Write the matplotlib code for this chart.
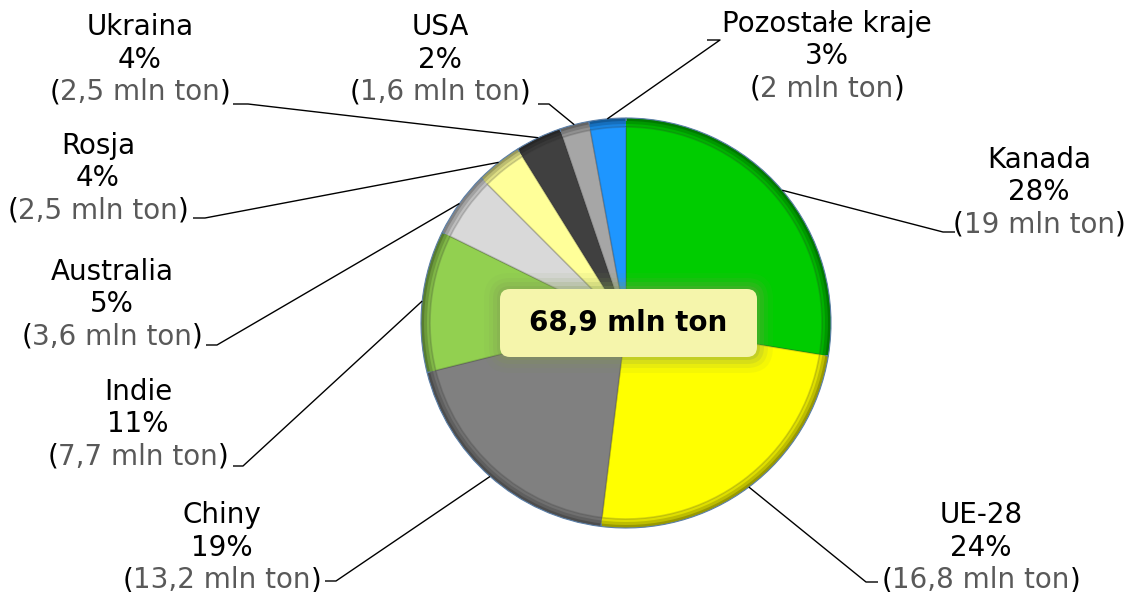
import numpy as np
import matplotlib.pyplot as plt
from matplotlib.patches import FancyBboxPatch
from matplotlib.colors import to_rgb

# data
countries = ["Kanada", "UE-28", "Chiny", "Indie", "Australia", "Rosja",
             "Ukraina", "USA", "Pozostałe kraje"]
mln_ton = [19, 16.8, 13.2, 7.7, 3.6, 2.5, 2.5, 1.6, 2]
percent = ["28%", "24%", "19%", "11%", "5%", "4%", "4%", "2%", "3%"]
value_text = ["19", "16,8", "13,2", "7,7", "3,6", "2,5", "2,5", "1,6", "2"]
total_text = "68,9 mln ton"

colors = ["#00cc00", "#ffff00", "#808080", "#92d050", "#d9d9d9",
          "#ffff99", "#404040", "#a6a6a6", "#1e96ff"]

W, H = 1129, 592
# label layout (pixel coords, y measured from the top)
label_x = [1039, 981, 222, 138, 112, 98, 140, 440, 827]
label_y = [160, 515, 515, 392, 272, 146, 27, 27, 24]
elbow = [(943, 232), (866, 582), (336, 581), (243, 466), (217, 345),
         (205, 218), (248, 104), (549, 104), (720, 40)]
elbow_end = [955, 878, 325, 233, 206, 193, 233, 538, 707]

plt.rcParams['font.family'] = ['DejaVu Sans']
plt.rcParams['font.size'] = 20

fig = plt.figure(figsize=(W / 100, H / 100), dpi=100)
ax = fig.add_axes([0, 0, 1, 1])

cx, cy, R = 626, H - 323, 205


def darker(c, f):
    r, g, b = to_rgb(c)
    return (r * f, g * f, b * f)


# bevelled rim: a few rings getting lighter towards the face
for dr, f in [(0, 0.6), (3, 0.74), (6, 0.87)]:
    ax.pie(mln_ton, colors=[darker(c, f) for c in colors], startangle=90,
           counterclock=False, radius=R - dr, center=(cx, cy), frame=True,
           wedgeprops=dict(edgecolor="#5b7fa8" if dr == 0 else "none",
                           linewidth=0.8))
wedges, _ = ax.pie(mln_ton, colors=colors, startangle=90, counterclock=False,
                   radius=R - 9, center=(cx, cy), frame=True,
                   wedgeprops=dict(edgecolor=(0.2, 0.2, 0.2, 0.2),
                                   linewidth=1.2))

# labels and leader lines
for i, w in enumerate(wedges):
    ang = np.deg2rad((w.theta1 + w.theta2) / 2)
    sx, sy = cx + R * np.cos(ang), cy + R * np.sin(ang)
    ex, ey = elbow[i][0], H - elbow[i][1]
    ax.plot([sx, ex, elbow_end[i]], [sy, ey, ey], color="black", lw=1,
            solid_capstyle="butt")

    x = label_x[i]
    y1 = H - label_y[i]
    ax.text(x, y1, countries[i], ha="center", va="center", color="black")
    ax.text(x, y1 - 32.5, percent[i], ha="center", va="center", color="black")
    tv = ax.text(x, y1 - 65, value_text[i] + " mln ton", ha="center",
                 va="center", color="#595959")
    ax.annotate("(", xy=(0, 0.5), xycoords=tv, ha="right", va="center",
                color="black")
    ax.annotate(")", xy=(1, 0.5), xycoords=tv, ha="left", va="center",
                color="black")

# centre box with a soft glow
bx, by, bw, bh = 500, H - 357, 257, 68
for k, a in [(16, 0.07), (11, 0.11), (7, 0.16), (3, 0.22)]:
    ax.add_patch(FancyBboxPatch((bx + 10 - k, by + 10 - k), bw - 20 + 2 * k,
                                bh - 20 + 2 * k,
                                boxstyle="round,pad=10,rounding_size=%d" % (10 + k),
                                fc="#7f9a50", ec="none", alpha=a, zorder=3))
ax.add_patch(FancyBboxPatch((bx + 10, by + 10), bw - 20, bh - 20,
                            boxstyle="round,pad=10,rounding_size=10",
                            fc="#f5f5ab", ec="none", zorder=4))
ax.text(bx + bw / 2, by + bh / 2, total_text, ha="center", va="center",
        fontweight="bold", fontsize=20, zorder=5)

ax.set_xlim(0, W)
ax.set_ylim(0, H)
ax.set_aspect("auto")
ax.axis("off")

fig.savefig("out.png", dpi=100, facecolor="white")
